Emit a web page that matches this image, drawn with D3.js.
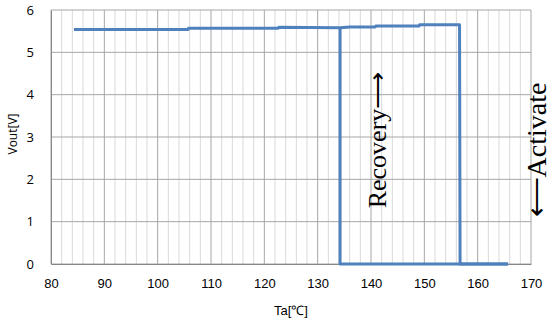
<!DOCTYPE html>
<html><head><meta charset="utf-8">
<script src="https://cdn.jsdelivr.net/npm/d3@7"></script>
<style>body{margin:0;background:#fff}svg{display:block}</style>
</head><body>
<svg id="c" width="551" height="324"></svg>
<script>
const xTicks = [80, 90, 100, 110, 120, 130, 140, 150, 160, 170];
const yTicks = [0, 1, 2, 3, 4, 5, 6];
// Heating sweep (temperature rising) – Ta[°C], Vout[V]
const heatTa   = [84.3, 105.7, 105.8, 122.6, 122.7, 134.2, 136.0, 140.8, 140.9, 149.0, 149.1, 156.6, 156.7, 165.7];
const heatVout = [5.54, 5.54, 5.57, 5.57, 5.59, 5.58, 5.60, 5.60, 5.62, 5.62, 5.65, 5.65, 0, 0];
// Cooling sweep (temperature falling)
const coolTa   = [165.7, 134.2, 134.2];
const coolVout = [0, 0, 5.58];
const xTitle = "Ta[\u2103]";
const yTitle = "Vout[V]";
const recoveryLabel = "Recovery\u27F6";
const activateLabel = "\u27F5Activate";

const svg = d3.select("#c");
const L = 51, R = 531, T = 10, B = 264;
const x = d3.scaleLinear().domain([80, 170]).range([L, R]);
const y = d3.scaleLinear().domain([0, 6]).range([B, T]);

const g = svg.append("g");
const minor = d3.range(80, 171, 2).filter(v => v % 10 !== 0);
g.selectAll(".mv").data(minor).join("line")
  .attr("x1", d => x(d)).attr("x2", d => x(d)).attr("y1", T).attr("y2", B)
  .attr("stroke", "#d9d9d9").attr("stroke-width", 1);
g.selectAll(".Mv").data(xTicks).join("line")
  .attr("x1", d => x(d)).attr("x2", d => x(d)).attr("y1", T).attr("y2", B)
  .attr("stroke", "#a6a6a6").attr("stroke-width", 1);
g.selectAll(".h").data(yTicks).join("line")
  .attr("x1", L).attr("x2", R).attr("y1", d => y(d)).attr("y2", d => y(d))
  .attr("stroke", "#a6a6a6").attr("stroke-width", 1);

const xAxis = svg.append("g").attr("transform", `translate(0,${B})`)
  .call(d3.axisBottom(x).tickValues(xTicks).tickSize(0).tickPadding(15).tickFormat(d3.format("d")));
xAxis.select(".domain").attr("stroke", "#868686");
xAxis.selectAll("text").attr("font-family", "Liberation Sans, Arial, sans-serif").attr("font-size", 13).attr("fill", "#000");
const yAxis = svg.append("g").attr("transform", `translate(${L},0)`)
  .call(d3.axisLeft(y).tickValues(yTicks).tickSize(0).tickPadding(17).tickFormat(d3.format("d")));
yAxis.select(".domain").attr("stroke", "#868686");
yAxis.selectAll("text").attr("font-family", "Open Sans, sans-serif").attr("font-size", 13).attr("fill", "#000");

const line = d3.line().x(d => x(d[0])).y(d => y(d[1]));
const heat = heatTa.map((t, i) => [t, heatVout[i]]);
const cool = coolTa.map((t, i) => [t, coolVout[i]]);
[heat, cool].forEach(s => svg.append("path").datum(s).attr("d", line)
  .attr("fill", "none").attr("stroke", "#4f81bd").attr("stroke-width", 3)
  .attr("stroke-linejoin", "round"));

svg.append("text").attr("x", 291).attr("y", 315).attr("text-anchor", "middle")
  .attr("font-family", "Liberation Sans, Arial, sans-serif").attr("font-size", 13).text(xTitle);
svg.append("text").attr("transform", "translate(17,134) rotate(-90)").attr("text-anchor", "middle")
  .attr("font-family", "Open Sans, sans-serif").attr("font-size", 12).text(yTitle);

svg.append("text").attr("transform", "translate(386,140) rotate(-90)").attr("text-anchor", "middle")
  .attr("font-family", "Liberation Serif, Times New Roman, serif").attr("font-size", 26).text(recoveryLabel);
svg.append("text").attr("transform", "translate(546,150) rotate(-90)").attr("text-anchor", "middle")
  .attr("font-family", "Liberation Serif, Times New Roman, serif").attr("font-size", 28).text(activateLabel);
</script>
</body></html>
